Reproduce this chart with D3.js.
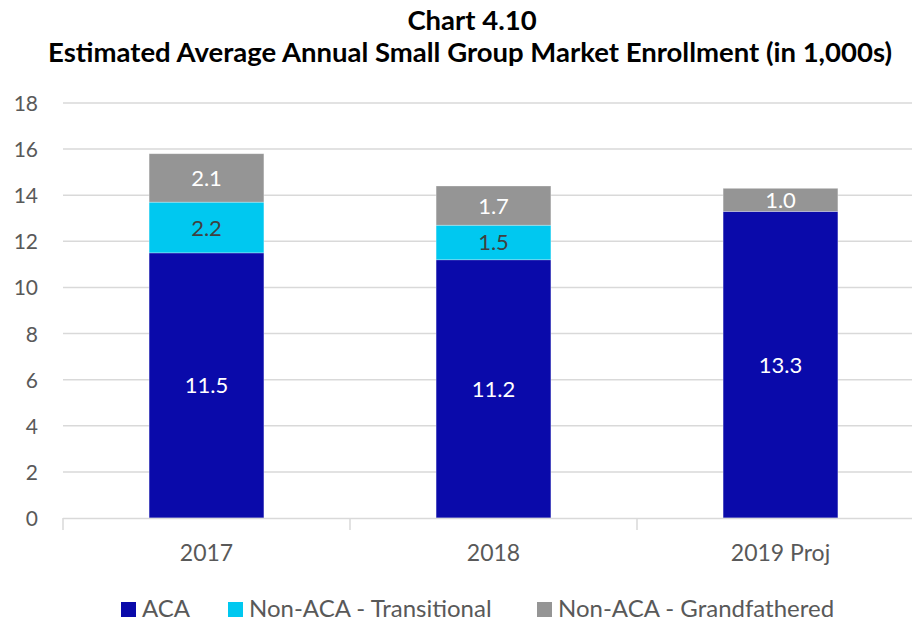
<!DOCTYPE html>
<html>
<head>
<meta charset="utf-8">
<script src="https://cdn.jsdelivr.net/npm/d3@7"></script>
<style>
  body { margin: 0; background: #fff; }
  text { font-family: Lato, "Open Sans", sans-serif; }
</style>
</head>
<body>
<div id="root"></div>
<script>
const categories = ['2017', '2018', '2019 Proj'];
const seriesNames = ['ACA', 'Non-ACA - Transitional', 'Non-ACA - Grandfathered'];
const aca = [11.5, 11.2, 13.3];
const transitional = [2.2, 1.5, 0];
const grandfathered = [2.1, 1.7, 1.0];
const yTicks = [0, 2, 4, 6, 8, 10, 12, 14, 16, 18];

const colors = ['#0a0aaa', '#00c8f0', '#959595'];
const labelColors = ['#ffffff', '#404040', '#ffffff'];

const w = 912, h = 621;
const m = { left: 63, right: 924, top: 103, bottom: 518 };

const svg = d3.select('#root').append('svg')
  .attr('width', w).attr('height', h);

const x = d3.scaleBand().domain(categories).range([m.left, m.right]).padding(0);
const y = d3.scaleLinear().domain([0, 18]).range([m.bottom, m.top]);

// gridlines
svg.append('g').selectAll('line')
  .data(yTicks.filter(d => d > 0))
  .enter().append('line')
  .attr('x1', m.left).attr('x2', m.right)
  .attr('y1', d => y(d)).attr('y2', d => y(d))
  .attr('stroke', '#d9d9d9').attr('stroke-width', 1.5);

// y labels
svg.append('g').selectAll('text')
  .data(yTicks).enter().append('text')
  .attr('x', 38).attr('y', d => y(d) + 8)
  .attr('text-anchor', 'end')
  .attr('font-size', 21).attr('fill', '#595959')
  .text(d => d);

// stacked data
const rows = categories.map((c, i) => ({
  cat: c, ACA: aca[i], 'Non-ACA - Transitional': transitional[i], 'Non-ACA - Grandfathered': grandfathered[i]
}));
const stack = d3.stack().keys(seriesNames)(rows);

const barW = x.bandwidth() * 0.4;
stack.forEach((s, si) => {
  const g = svg.append('g');
  g.selectAll('rect').data(s.filter(d => d[1] - d[0] > 0)).enter().append('rect')
    .attr('x', d => x(d.data.cat) + x.bandwidth() / 2 - barW / 2)
    .attr('width', barW)
    .attr('y', d => y(d[1]))
    .attr('height', d => y(d[0]) - y(d[1]))
    .attr('fill', colors[si])
    .attr('stroke', '#ffffff').attr('stroke-opacity', 0.4).attr('stroke-width', 0.75);
  g.selectAll('text').data(s.filter(d => d[1] - d[0] > 0)).enter().append('text')
    .attr('x', d => x(d.data.cat) + x.bandwidth() / 2)
    .attr('y', d => (y(d[0]) + y(d[1])) / 2 + 8)
    .attr('text-anchor', 'middle')
    .attr('font-size', 22).attr('fill', labelColors[si])
    .text(d => (d[1] - d[0]).toFixed(1));
});

// x axis
svg.append('line')
  .attr('x1', m.left).attr('x2', m.right)
  .attr('y1', m.bottom + 0.5).attr('y2', m.bottom + 0.5)
  .attr('stroke', '#d9d9d9').attr('stroke-width', 1.5);
svg.append('g').selectAll('line')
  .data(categories).enter().append('line')
  .attr('x1', d => x(d)).attr('x2', d => x(d))
  .attr('y1', m.bottom).attr('y2', m.bottom + 12)
  .attr('stroke', '#d9d9d9').attr('stroke-width', 1.5);
svg.append('g').selectAll('text')
  .data(categories).enter().append('text')
  .attr('x', d => x(d) + x.bandwidth() / 2)
  .attr('y', 561)
  .attr('text-anchor', 'middle')
  .attr('font-size', 23).attr('fill', '#595959')
  .text(d => d);

// title
svg.append('text').attr('x', 472).attr('y', 30)
  .attr('text-anchor', 'middle').attr('font-size', 27.5).attr('font-weight', 'bold')
  .attr('fill', '#000').text('Chart 4.10');
svg.append('text').attr('x', 470).attr('y', 62)
  .attr('text-anchor', 'middle').attr('font-size', 27.5).attr('font-weight', 'bold')
  .attr('fill', '#000').text('Estimated Average Annual Small Group Market Enrollment (in 1,000s)');

// legend
const legendX = [121, 228, 537];
const lg = svg.append('g');
seriesNames.forEach((n, i) => {
  lg.append('rect').attr('x', legendX[i]).attr('y', 602)
    .attr('width', 15).attr('height', 15).attr('fill', colors[i]);
  lg.append('text').attr('x', legendX[i] + 21).attr('y', 617)
    .attr('font-size', 24).attr('fill', '#595959').text(n);
});
</script>
</body>
</html>
